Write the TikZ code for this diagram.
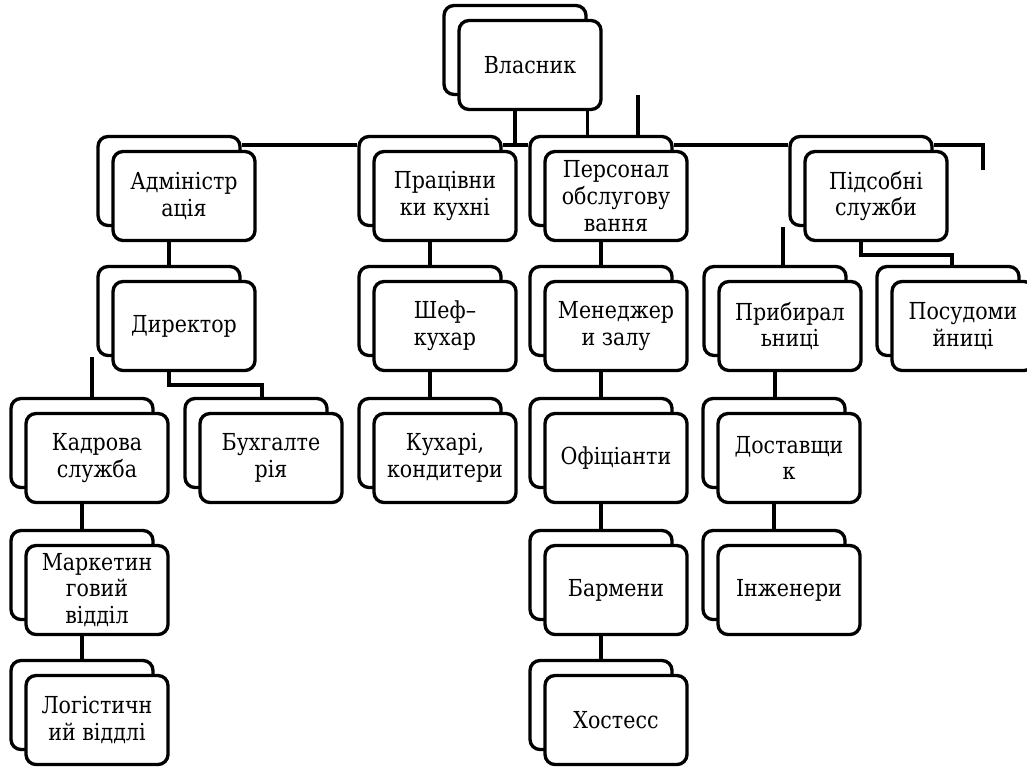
\documentclass[tikz,border=0pt]{standalone}
\usepackage{fontspec}
\setmainfont{DejaVu Serif}
\newfontfamily\rufont{DejaVu Serif}[Scale=0.9,FakeStretch=0.88]
\usetikzlibrary{calc}
\pgfdeclarelayer{bg}
\pgfsetlayers{bg,main}
\tikzset{
  orgbox/.style={draw, line width=2.5pt, rounded corners=7.5pt, fill=white,
    minimum width=106.5pt, minimum height=66.75pt, inner sep=0pt,
    align=center, font=\rufont\fontsize{19.5}{20}\selectfont},
  conn/.style={line width=2.7pt},
}
\newcommand{\orgnode}[4]{%
  \node[orgbox] (#1b) at (#2-15,#3-15) {};
  \node[orgbox] (#1) at (#2,#3) {#4};
}
\begin{document}
\begin{tikzpicture}[x=0.75pt,y=-0.75pt]
\useasboundingbox (0,0) rectangle (1027,767);
\clip (0,0) rectangle (1027,767);
% boxes
\orgnode{vl}{530}{65}{Власник}
\orgnode{adm}{184}{196}{Адміністр\\ація}
\orgnode{prac}{445}{196}{Працівни\\ки кухні}
\orgnode{per}{616}{196}{Персонал\\обслугову\\вання}
\orgnode{pid}{876}{196}{Підсобні\\служби}
\orgnode{dir}{184}{326}{Директор}
\orgnode{shef}{445}{326}{Шеф–\\кухар}
\orgnode{men}{616}{326}{Менеджер\\и залу}
\orgnode{prib}{790}{326}{Прибирал\\ьниці}
\orgnode{pos}{963}{326}{Посудоми\\йниці}
\orgnode{kad}{97}{458}{Кадрова\\служба}
\orgnode{buh}{271}{458}{Бухгалте\\рія}
\orgnode{kuh}{445}{458}{Кухарі,\\кондитери}
\orgnode{ofi}{616}{458}{Офіціанти}
\orgnode{dost}{789}{458}{Доставщи\\к}
\orgnode{mark}{97}{590}{Маркетин\\говий\\відділ}
\orgnode{bar}{616}{590}{Бармени}
\orgnode{inzh}{789}{590}{Інженери}
\orgnode{log}{97}{720}{Логістичн\\ий віддлі}
\orgnode{host}{616}{720}{Хостесс}
% connectors
\begin{pgfonlayer}{bg}
\coordinate (bus) at (0,145);
\coordinate (f1) at (638,95);
\coordinate (f2) at (92,357);
\coordinate (f3) at (262,385);
\coordinate (f4) at (783,227);
\coordinate (f5) at (952,255);
\coordinate (f6) at (983,170);
\draw[conn] (vlb.south |- vl.south) -- (vlb.south |- bus);
\draw[conn] (vlb.east |- vl.south) -- (vlb.east |- perb.north);
\draw[conn] (f1) -- (f1 |- perb.north);
\draw[conn] (admb.east |- bus) -- (pracb.west |- bus);
\draw[conn] (pracb.east |- bus) -- (perb.west |- bus);
\draw[conn] (perb.east |- bus) -- (pidb.west |- bus);
\draw[conn] (pidb.east |- bus) -- (f6 |- bus) -- (f6);
% administration branch
\draw[conn] (admb.south |- adm.south) -- (dirb.north);
\draw[conn] (f2) -- (f2 |- kadb.north);
\draw[conn] (dirb.south |- dir.south) -- (dirb.south |- f3) -- (f3) -- (f3 |- buhb.north);
\draw[conn] (kadb.south |- kad.south) -- (markb.north);
\draw[conn] (markb.south |- mark.south) -- (logb.north);
% kitchen branch
\draw[conn] (pracb.south |- prac.south) -- (shefb.north);
\draw[conn] (shefb.south |- shef.south) -- (kuhb.north);
% service branch
\draw[conn] (perb.south |- per.south) -- (menb.north);
\draw[conn] (menb.south |- men.south) -- (ofib.north);
\draw[conn] (ofib.south |- ofi.south) -- (barb.north);
\draw[conn] (barb.south |- bar.south) -- (hostb.north);
% auxiliary branch
\draw[conn] (f4) -- (f4 |- pribb.north);
\draw[conn] (pidb.south |- pid.south) -- (pidb.south |- f5) -- (f5) -- (f5 |- posb.north);
\draw[conn] (pribb.south |- prib.south) -- (pribb.south |- dostb.north);
\draw[conn] (dostb.south |- dost.south) -- (inzhb.north);
\end{pgfonlayer}
\end{tikzpicture}
\end{document}
